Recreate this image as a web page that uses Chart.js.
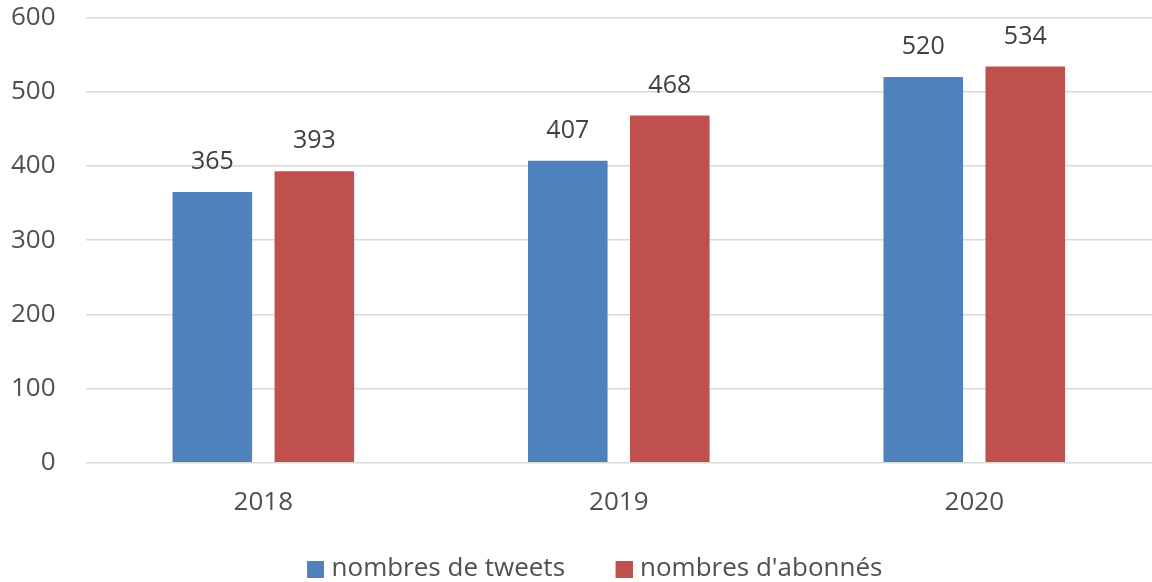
<!DOCTYPE html>
<html lang="fr">
<head>
<meta charset="UTF-8">
<title>Tweets et abonnés</title>
<script src="https://cdn.jsdelivr.net/npm/chart.js@4.4.3/dist/chart.umd.min.js"></script>
<style>
  html, body { margin: 0; padding: 0; background: #fff; }
  #wrap { width: 1152px; height: 582px; position: relative; }
</style>
</head>
<body>
<div id="wrap"><canvas id="mychart"></canvas></div>
<script>
  // data
  const years = ['2018', '2019', '2020'];
  const tweets = [365, 407, 520];
  const abonnes = [393, 468, 534];
  const yTicks = [0, 100, 200, 300, 400, 500, 600];

  const FONT = '"Open Sans", sans-serif';
  const TEXT = '#505050';

  // legend marker: square on the right of a wider transparent canvas,
  // so items sit further apart and the square hugs its text
  function legendBox(color) {
    const c = document.createElement('canvas');
    c.width = 51;
    c.height = 17;
    const g = c.getContext('2d');
    g.fillStyle = color;
    g.fillRect(34, 0, 17, 17);
    return c;
  }

  // value above each bar
  const valueLabels = {
    id: 'valueLabels',
    afterDatasetsDraw(chart) {
      const ctx = chart.ctx;
      ctx.save();
      ctx.font = '25px ' + FONT;
      ctx.fillStyle = '#404040';
      ctx.textAlign = 'center';
      ctx.textBaseline = 'alphabetic';
      chart.data.datasets.forEach((ds, i) => {
        chart.getDatasetMeta(i).data.forEach((bar, j) => {
          ctx.fillText(ds.data[j], bar.x, bar.y - 23);
        });
      });
      ctx.restore();
    }
  };

  var data = {
    labels: years,
    datasets: [
      {
        label: 'nombres de tweets',
        data: tweets,
        backgroundColor: '#4F81BD'
      },
      {
        label: "nombres d'abonnés",
        data: abonnes,
        backgroundColor: '#C0504D'
      }
    ]
  };

  var config = {
    type: 'bar',
    data: data,
    plugins: [valueLabels],
    options: {
      responsive: true,
      maintainAspectRatio: false,
      animation: false,
      datasets: {
        bar: { categoryPercentage: 0.574, barPercentage: 0.78 }
      },
      layout: { padding: { top: 0, left: 9, right: 0, bottom: -10 } },
      scales: {
        x: {
          grid: { display: false },
          border: { display: false },
          ticks: { color: TEXT, font: { family: FONT, size: 26 }, padding: 16 }
        },
        y: {
          min: 0,
          max: 600,
          afterBuildTicks: (axis) => { axis.ticks = yTicks.map(v => ({ value: v })); },
          grid: { color: '#d9d9d9', lineWidth: 1.5, drawTicks: true, tickLength: 28, tickColor: 'rgba(0,0,0,0)' },
          border: { display: false },
          ticks: { color: TEXT, font: { family: FONT, size: 26 }, padding: 2 }
        }
      },
      plugins: {
        legend: {
          display: true,
          position: 'bottom',
          labels: {
            color: TEXT,
            font: { family: FONT, size: 26 },
            usePointStyle: true,
            pointStyleWidth: 40,
            boxHeight: 17,
            padding: 22,
            generateLabels: (chart) => {
              const items = Chart.defaults.plugins.legend.labels.generateLabels(chart);
              items.forEach((it, i) => {
                it.pointStyle = legendBox(chart.data.datasets[i].backgroundColor);
              });
              return items;
            }
          }
        },
        tooltip: { enabled: false }
      }
    }
  };

  var mychart = new Chart(document.getElementById('mychart'), config);
</script>
</body>
</html>
